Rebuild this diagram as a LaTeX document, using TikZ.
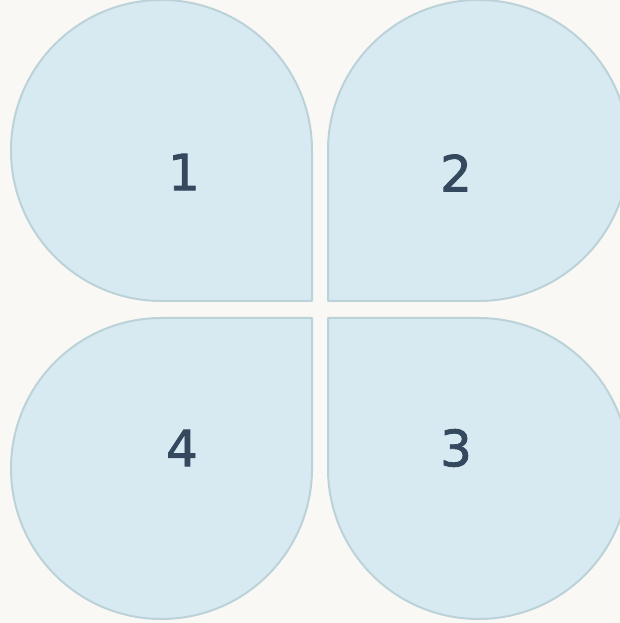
\documentclass[tikz,border=0pt]{standalone}
\usepackage{fontspec}
\setmainfont{DejaVu Sans}
\newfontfamily\numfont[FakeBold=1.6]{DejaVu Sans}
\definecolor{bgc}{HTML}{FAF8F5}
\definecolor{petalfill}{HTML}{D8EAF1}
\definecolor{petalline}{HTML}{BCD2D9}
\definecolor{numc}{HTML}{34495E}
\begin{document}
\begin{tikzpicture}[x=1pt,y=1pt,
  petal/.style={fill=petalfill,draw=petalline,line width=2pt,line join=round},
  num/.style={text=numc,font=\numfont\fontsize{50}{50}\selectfont,inner sep=0pt}]
\useasboundingbox (0,0) rectangle (620,623);
\fill[bgc] (0,0) rectangle (620,623);
\begin{scope}
\clip (0,0) rectangle (620,623);
% petal 1 (top-left, sharp bottom-right)
\draw[petal] (312,322) -- (161.5,322) arc[start angle=270,end angle=0,radius=150.5] -- cycle;
% petal 2 (top-right, sharp bottom-left)
\draw[petal] (328,322) -- (328,472.5) arc[start angle=180,end angle=-90,radius=150.5] -- cycle;
% petal 4 (bottom-left, sharp top-right)
\draw[petal] (312,305) -- (312,154.5) arc[start angle=0,end angle=-270,radius=150.5] -- cycle;
% petal 3 (bottom-right, sharp top-left)
\draw[petal] (328,305) -- (478.5,305) arc[start angle=90,end angle=-180,radius=150.5] -- cycle;
\end{scope}
\node[num] (n1) at (184,451) {1};
\node[num] (n2) at (456,450) {2};
\node[num] (n4) at (182,175) {4};
\node[num] (n3) at (456,175) {3};
\end{tikzpicture}
\end{document}
